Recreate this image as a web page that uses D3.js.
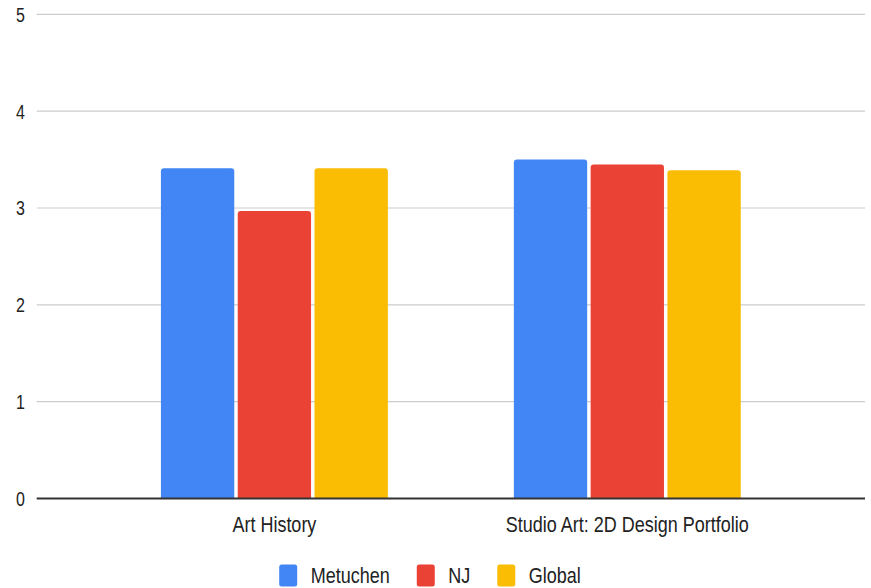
<!DOCTYPE html>
<html>
<head>
<meta charset="utf-8">
<script src="https://cdn.jsdelivr.net/npm/d3@7"></script>
<style>
  html, body { margin: 0; padding: 0; background: #fff; }
  svg { display: block; font-family: "Liberation Sans", Arial, sans-serif; }
</style>
</head>
<body>
<svg id="chart" width="871" height="588"></svg>
<script>
const categories = ["Art History", "Studio Art: 2D Design Portfolio"];
const seriesNames = ["Metuchen", "NJ", "Global"];
const metuchen = [3.41, 3.50];
const nj = [2.97, 3.45];
const global = [3.41, 3.39];
const yTicks = [0, 1, 2, 3, 4, 5];
const colors = ["#4285f4", "#ea4335", "#fbbc04"];

const seriesValues = [metuchen, nj, global];
const data = categories.map((c, i) => ({
  category: c,
  values: seriesNames.map((s, j) => ({ series: s, value: seriesValues[j][i], color: colors[j] }))
}));

const svg = d3.select("#chart");
const plotLeft = 36.7, plotRight = 865, plotTop = 14.3, plotBottom = 498.5;
const SY = 1.18;

const y = d3.scaleLinear().domain([0, 5]).range([plotBottom, plotTop]);
const x0 = d3.scaleBand().domain(categories).range([plotLeft, plotRight]).paddingInner(0.357).paddingOuter(0.352);
const x1 = d3.scaleBand().domain(seriesNames).range([0, x0.bandwidth()]).paddingInner(0.045);

// gridlines
svg.append("g").selectAll("line").data(yTicks.filter(t => t !== 0)).join("line")
  .attr("x1", plotLeft).attr("x2", plotRight)
  .attr("y1", d => y(d)).attr("y2", d => y(d))
  .attr("stroke", "#cccccc").attr("stroke-width", 1.2);

// y tick labels
svg.append("g").selectAll("text").data(yTicks).join("text")
  .attr("transform", d => `translate(25,${y(d) + 7.5}) scale(1,1.3)`)
  .attr("text-anchor", "end")
  .attr("font-size", 16)
  .attr("fill", "#222")
  .text(d => d);

// bars with rounded top corners
function barPath(bx, by, w, h, r) {
  r = Math.min(r, h, w / 2);
  return `M${bx},${by + h}V${by + r}Q${bx},${by} ${bx + r},${by}H${bx + w - r}Q${bx + w},${by} ${bx + w},${by + r}V${by + h}Z`;
}
const groups = svg.append("g").selectAll("g").data(data).join("g")
  .attr("transform", d => `translate(${x0(d.category)},0)`);
groups.selectAll("path").data(d => d.values).join("path")
  .attr("d", d => barPath(x1(d.series), y(d.value), x1.bandwidth(), y(0) - y(d.value), 3))
  .attr("fill", d => d.color);

// baseline
svg.append("line").attr("x1", plotLeft).attr("x2", plotRight)
  .attr("y1", y(0)).attr("y2", y(0))
  .attr("stroke", "#333").attr("stroke-width", 2);

// category labels
svg.append("g").selectAll("text").data(categories).join("text")
  .attr("transform", d => `translate(${x0(d) + x0.bandwidth() / 2},531.7) scale(1,${SY})`)
  .attr("text-anchor", "middle")
  .attr("font-size", 18)
  .attr("fill", "#222")
  .text(d => d);

// legend
const legend = svg.append("g");
const items = legend.selectAll("g").data(seriesNames).join("g");
items.append("rect")
  .attr("width", 18).attr("height", 22).attr("rx", 2.5)
  .attr("y", 564.5)
  .attr("fill", (d, i) => colors[i]);
const texts = items.append("text")
  .attr("font-size", 18).attr("fill", "#222")
  .text(d => d);
let widths = [];
texts.each(function () { widths.push(this.getComputedTextLength()); });
const itemW = widths.map(w => 18 + 13.5 + w);
const gap = 27;
const total = d3.sum(itemW) + gap * (itemW.length - 1);
let cx = 430 - total / 2;
items.each(function (d, i) {
  d3.select(this).attr("transform", `translate(${cx},0)`);
  cx += itemW[i] + gap;
});
texts.attr("transform", `translate(31.5,583.3) scale(1,${SY})`);
</script>
</body>
</html>
